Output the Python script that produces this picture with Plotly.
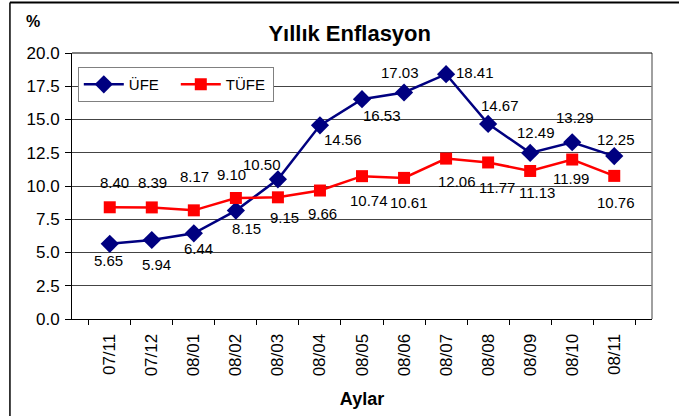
import plotly.graph_objects as go

months = ["07/11", "07/12", "08/01", "08/02", "08/03", "08/04", "08/05",
          "08/06", "08/07", "08/08", "08/09", "08/10", "08/11"]
ufe = [5.65, 5.94, 6.44, 8.15, 10.50, 14.56, 16.53, 17.03, 18.41, 14.67, 12.49, 13.29, 12.25]
tufe = [8.40, 8.39, 8.17, 9.10, 9.15, 9.66, 10.74, 10.61, 12.06, 11.77, 11.13, 11.99, 10.76]
yticks = [0, 2.5, 5, 7.5, 10, 12.5, 15, 17.5, 20]

# label offsets (px) relative to each point, as placed in the original chart
ufe_dx = [-1, 5, 5, 11, -16, 23, 20, -4, 29, 12, 6, 3, 2]
ufe_dy = [-17, -24, -15, -18, 15, -14, -16, 20, 2, 18, 20, 25, 17]
tufe_dx = [5, 1, 1, -4, 7, 3, 7, 5, 11, 9, 7, -1, 2]
tufe_dy = [25, 25, 34, 23, -20, -23, -24, -25, -23, -25, -22, -19, -27]

FONT = "Liberation Sans, Arial, sans-serif"

fig = go.Figure()
fig.add_trace(go.Scatter(
    x=months, y=ufe, name="ÜFE", mode="lines+markers",
    line=dict(color="#000080", width=2.5),
    marker=dict(symbol="diamond", size=14, color="#000080")))
fig.add_trace(go.Scatter(
    x=months, y=tufe, name="TÜFE", mode="lines+markers",
    line=dict(color="#FF0000", width=2.5),
    marker=dict(symbol="square", size=12, color="#FF0000")))

annotations = []
for series, dxs, dys in ((ufe, ufe_dx, ufe_dy), (tufe, tufe_dx, tufe_dy)):
    for m, v, dx, dy in zip(months, series, dxs, dys):
        annotations.append(dict(x=m, y=v, xref="x", yref="y", text=f"{v:.2f}",
                                showarrow=False, xshift=dx, yshift=dy,
                                xanchor="center", yanchor="middle",
                                font=dict(size=15, color="#000", family=FONT)))
annotations.append(dict(text="<b>%</b>", xref="paper", yref="paper",
                        x=-0.067, y=1.117, xanchor="center", yanchor="middle",
                        showarrow=False, font=dict(size=16)))

fig.update_layout(
    width=679, height=416,
    margin=dict(l=72, r=27, t=53, b=97),
    paper_bgcolor="white", plot_bgcolor="white",
    font=dict(family=FONT, size=16, color="#000"),
    title=dict(text="<b>Yıllık Enflasyon</b>", x=0.515, xanchor="center",
               y=0.92, yanchor="middle", font=dict(size=22)),
    showlegend=True,
    legend=dict(orientation="h", x=0.01, y=0.947, xanchor="left", yanchor="top",
                bordercolor="#808080", borderwidth=1, bgcolor="white",
                font=dict(size=15), itemwidth=40, entrywidth=42),
    xaxis=dict(type="category", tickangle=-90, ticks="outside", tickson="boundaries",
               ticklen=5, tickcolor="#000", showline=True, linecolor="#000",
               showgrid=False, automargin=False, tickfont=dict(size=17),
               ticklabelstandoff=7,
               title=dict(text="<b>Aylar</b>", font=dict(size=18), standoff=17)),
    yaxis=dict(range=[0, 20], tickvals=yticks, ticktext=[f"{v:.1f}" for v in yticks],
               ticks="outside", ticklen=6, tickcolor="#000", showline=True,
               linecolor="#000", showgrid=True, gridcolor="#444", gridwidth=1,
               zeroline=False, automargin=False, tickfont=dict(size=17),
               ticklabelstandoff=2),
    annotations=annotations,
    shapes=[
        dict(type="line", xref="paper", yref="paper", x0=-0.107, x1=1.1, y0=1.19, y1=1.19,
             line=dict(color="#000", width=2)),
        dict(type="line", xref="paper", yref="paper", x0=-0.107, x1=-0.107, y0=-0.4, y1=1.19,
             line=dict(color="#000", width=1.5)),
        dict(type="line", xref="paper", yref="paper", x0=1, x1=1, y0=0, y1=1,
             line=dict(color="#808080", width=1.5)),
        dict(type="line", xref="paper", yref="paper", x0=0, x1=1, y0=1, y1=1,
             line=dict(color="#000", width=1)),
    ],
)

fig.write_html("out.html", config={"displayModeBar": False},
               post_script="document.body.style.margin='0';document.body.style.overflow='hidden';")
